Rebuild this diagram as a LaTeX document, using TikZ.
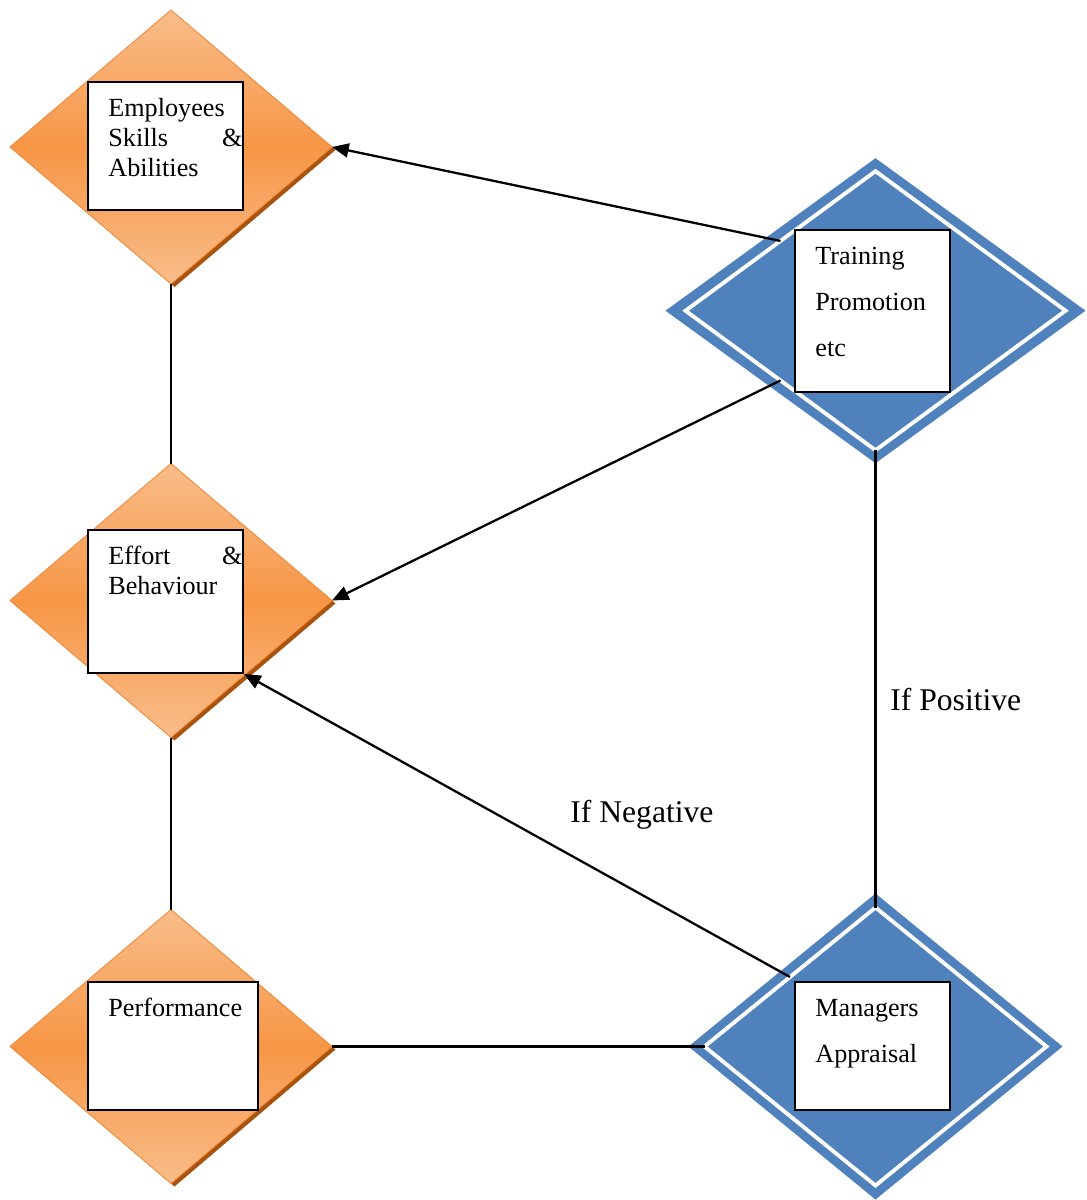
\documentclass[tikz,border=0pt]{standalone}
\usepackage{fontspec}
\setmainfont{Liberation Serif}
\usetikzlibrary{shapes.geometric,shadows,arrows.meta}
\definecolor{orangemid}{HTML}{F79646}
\definecolor{orangelight}{HTML}{F9BD8A}
\definecolor{orangeedge}{HTML}{F08A3A}
\definecolor{orangeshadow}{HTML}{A8530E}
\definecolor{bluefill}{HTML}{4F81BD}
\begin{document}
\begin{tikzpicture}[x=0.02cm,y=-0.02cm,
  orangediamond/.style={diamond,inner sep=0pt,outer sep=0pt,minimum width=322*0.02cm,minimum height=274*0.02cm,
    top color=orangelight,bottom color=orangelight,middle color=orangemid,draw=orangeedge,line width=0.5pt,
    drop shadow={shadow xshift=2pt,shadow yshift=-1.7pt,fill=orangeshadow,opacity=1}},
  bluediamond/.style={diamond,inner sep=0pt,outer sep=0pt,fill=bluefill},
  whiteline/.style={diamond,inner sep=0pt,outer sep=0pt,draw=white,line width=2.2pt},
  infobox/.style={rectangle,draw=black,fill=white,line width=1.1pt,inner sep=0pt},
  boxtext/.style={inner sep=0pt,anchor=base west,font=\fontsize{14.9}{17.1}\selectfont},
  spacedtext/.style={boxtext,font=\fontsize{14.9}{26.2}\selectfont},
  iflabel/.style={inner sep=0pt,anchor=base west,font=\fontsize{18}{21.6}\selectfont},
  arrow/.style={-{Triangle[length=9.5pt,width=8pt]},line width=1.3pt},
  link/.style={line width=1.3pt}]
\useasboundingbox (0,0) rectangle (1086,1200);

% orange diamonds on the left
\node[orangediamond] (d1) at (171,147) {};
\node[orangediamond] (d2) at (171,600.5) {};
\node[orangediamond] (d3) at (171,1046.5) {};

% blue diamonds on the right
\node[bluediamond,minimum width=420*0.02cm,minimum height=305*0.02cm] (to) at (875.5,310.7) {};
\node[whiteline,minimum width=380*0.02cm,minimum height=279*0.02cm] (ti) at (to.center) {};
\node[bluediamond,minimum width=374*0.02cm,minimum height=306*0.02cm] (mo) at (875.5,1046.5) {};
\node[whiteline,minimum width=342*0.02cm,minimum height=278*0.02cm] (mi) at (mo.center) {};

% boxes
\node[infobox,minimum width=155*0.02cm,minimum height=128*0.02cm] (b1) at (165.5,146) {};
\node[infobox,minimum width=155*0.02cm,minimum height=143*0.02cm] (b2) at (165.5,601.5) {};
\node[infobox,minimum width=170*0.02cm,minimum height=128*0.02cm] (b3) at (173,1046) {};
\node[infobox,minimum width=155*0.02cm,minimum height=162*0.02cm] (bt) at (872.5,311) {};
\node[infobox,minimum width=155*0.02cm,minimum height=128*0.02cm] (bm) at (872.5,1046) {};

\node[boxtext] (t1) at ([shift={(21,35)}]b1.north west) {\parbox[t]{2.68cm}{Employees\\Skills\hfill\&\\Abilities}};
\node[boxtext] (t2) at ([shift={(21,35)}]b2.north west) {\parbox[t]{2.68cm}{Effort\hfill\&\\Behaviour}};
\node[boxtext] (t3) at ([shift={(21,35)}]b3.north west) {\parbox[t]{3cm}{Performance}};
\node[spacedtext] (tt) at ([shift={(21,35)}]bt.north west) {\parbox[t]{3cm}{Training\\Promotion\\etc}};
\node[spacedtext] (tm) at ([shift={(21,35)}]bm.north west) {\parbox[t]{3cm}{Managers\\Appraisal}};

% connectors
\draw[arrow] (ti.north west) -- (d1.east);
\draw[arrow] (ti.south west) -- (d2.east);
\draw[arrow] (mi.north west) -- (b2.south east);
\draw[link] (d1.south) -- (d2.north);
\draw[link] (d2.south) -- (d3.north);
\draw[link] (ti.south) -- (mi.north);
\draw[link] (d3.east) -- (mi.west);

\node[iflabel] (pos) at (890,710) {If Positive};
\node[iflabel] (neg) at (570,822) {If Negative};
\end{tikzpicture}
\end{document}
